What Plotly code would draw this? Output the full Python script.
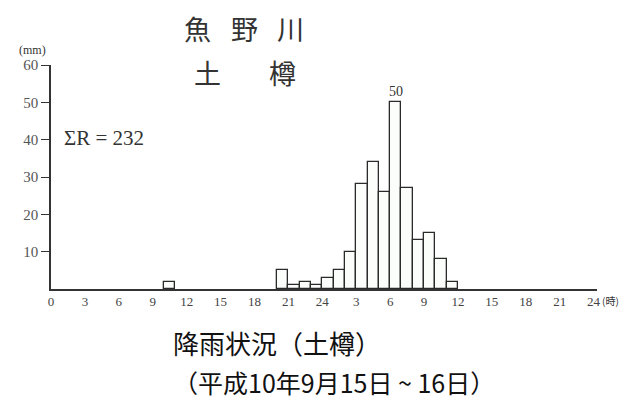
import plotly.graph_objects as go

# Hourly rainfall (mm), hour index counted from 0:00 on the 15th (bar spans hour..hour+1)
hour_start = [10, 20, 21, 22, 23, 24, 25, 26, 27, 28, 29, 30, 31, 32, 33, 34, 35]
rain_mm = [2, 5, 1, 2, 1, 3, 5, 10, 28, 34, 26, 50, 27, 13, 15, 8, 2]

x_tickvals = [0, 3, 6, 9, 12, 15, 18, 21, 24, 27, 30, 33, 36, 39, 42, 45, 48]
x_ticktext = ["0", "3", "6", "9", "12", "15", "18", "21", "24",
              "3", "6", "9", "12", "15", "18", "21", "24"]
y_tickvals = [10, 20, 30, 40, 50, 60]

total_text = "ΣR = 232"
title_chars = ["魚", "野", "川"]
place_chars = ["土", "樽"]
caption1 = "降雨状況（土樽）"
caption2 = "（平成10年9月15日 ~ 16日）"

W, H = 636, 405
L, R, T, B = 51, 39, 65, 116
PW, PH = W - L - R, H - T - B

def px(x):
    return (x - L) / PW

def py(y):
    return (H - B - y) / PH

SERIF = "Liberation Serif, DejaVu Serif, serif"
CJK = "Noto Sans CJK JP, Noto Sans CJK SC, sans-serif"

fig = go.Figure()
fig.add_trace(go.Bar(
    x=[h + 0.5 for h in hour_start],
    y=rain_mm,
    width=1,
    marker=dict(color="#fbfdfb", line=dict(color="#2a2a2a", width=1.3)),
    hoverinfo="x+y",
    showlegend=False,
))

def txt(xp, yp, text, family, size, color="#333", xanchor="center"):
    return dict(x=px(xp), y=py(yp), xref="paper", yref="paper", text=text,
                showarrow=False, xanchor=xanchor, yanchor="middle",
                font=dict(family=family, size=size, color=color))

ann = []
# peak label
imax = rain_mm.index(max(rain_mm))
ann.append(dict(x=hour_start[imax] + 0.5, y=max(rain_mm), xref="x", yref="y",
                text=str(max(rain_mm)), showarrow=False, yanchor="bottom", yshift=1,
                font=dict(family=SERIF, size=14, color="#333")))
# river title
for ch, xp in zip(title_chars, [197, 244, 290]):
    ann.append(txt(xp, 29, ch, CJK, 27))
for ch, xp in zip(place_chars, [207, 282]):
    ann.append(txt(xp, 72, ch, CJK, 27))
# unit labels
ann.append(txt(32, 50, "(mm)", SERIF, 12))
ann.append(txt(600, 300, "(時)", CJK, 10, xanchor="left"))
ann.append(txt(62, 138, total_text, SERIF, 21, xanchor="left"))
# captions
ann.append(txt(171, 342, caption1, CJK, 26, color="#111", xanchor="left"))
ann.append(txt(171, 382, caption2, CJK, 25, color="#111", xanchor="left"))

fig.update_layout(
    width=W, height=H,
    margin=dict(l=L, r=R, t=T, b=B, pad=0),
    paper_bgcolor="white", plot_bgcolor="white",
    bargap=0,
    annotations=ann,
    xaxis=dict(range=[0, 48.3], tickvals=x_tickvals, ticktext=x_ticktext,
               showgrid=False, zeroline=False, showline=True,
               linecolor="#333", linewidth=1.5, ticks="",
               tickfont=dict(family=SERIF, size=13, color="#444")),
    yaxis=dict(range=[0, 60], tickvals=y_tickvals, showgrid=False,
               zeroline=False, showline=True, linecolor="#333", linewidth=1.5,
               ticks="outside", ticklen=8, tickcolor="#333", tickwidth=1.2,
               tickfont=dict(family=SERIF, size=15, color="#555")),
)

fig.write_html("out.html", config={"displayModeBar": False},
               post_script="document.body.style.margin='0';document.body.style.padding='0';")
